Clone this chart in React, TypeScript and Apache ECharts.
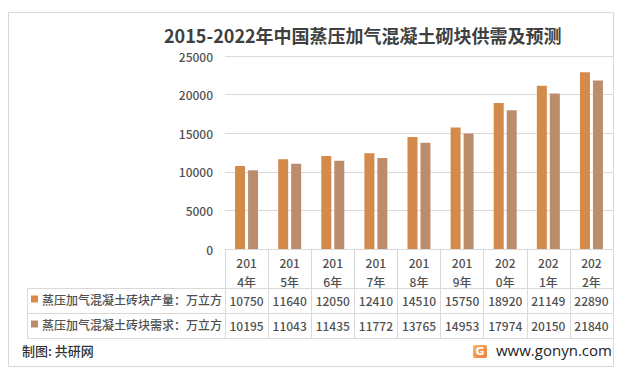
import React, { useEffect, useRef } from "react";
import * as echarts from "echarts";

const categories = ["2014年", "2015年", "2016年", "2017年", "2018年", "2019年", "2020年", "2021年", "2022年"];
const production = [10750, 11640, 12050, 12410, 14510, 15750, 18920, 21149, 22890];
const demand = [10195, 11043, 11435, 11772, 13765, 14953, 17974, 20150, 21840];
const seriesNames = ["蒸压加气混凝土砖块产量：万立方", "蒸压加气混凝土砖块需求：万立方"];
const titleText = "2015-2022年中国蒸压加气混凝土砌块供需及预测";
const yTicks = { min: 0, max: 25000, interval: 5000 };

const FONT = "'Noto Sans CJK SC', 'Microsoft YaHei', sans-serif";
const TXT = "#505050";
const LINE = "#D9D9D9";
const C1 = "#D38A4A";
const C2 = "#BC8D6D";
const W = 500;

export default function App() {
  const ref = useRef<HTMLDivElement>(null);
  useEffect(() => {
    const chart = echarts.init(ref.current!, null, { renderer: "svg" });
    const option: any = {
      animation: false,
      backgroundColor: "#fff",
      textStyle: { fontFamily: FONT },
      title: {
        text: titleText,
        left: 164,
        top: 26,
        padding: 0,
        textStyle: { fontSize: 18, fontWeight: "bold", color: "#404040", fontFamily: FONT },
      },
      legend: [
        {
          data: [seriesNames[0]],
          left: 31,
          top: 293,
          padding: 0,
          icon: "rect",
          itemWidth: 7,
          itemHeight: 7,
          selectedMode: false,
          textStyle: { fontSize: 12, fontWeight: W, color: TXT, fontFamily: FONT, padding: [0, 0, 0, -1] },
        },
        {
          data: [seriesNames[1]],
          left: 31,
          top: 318,
          padding: 0,
          icon: "rect",
          itemWidth: 7,
          itemHeight: 7,
          selectedMode: false,
          textStyle: { fontSize: 12, fontWeight: W, color: TXT, fontFamily: FONT, padding: [0, 0, 0, -1] },
        },
      ],
      grid: { left: 225, right: 9, top: 56, bottom: 126 },
      xAxis: [
        {
          type: "category",
          data: categories,
          boundaryGap: true,
          axisLine: { lineStyle: { color: LINE } },
          axisTick: { show: true, length: 89, lineStyle: { color: LINE } },
          axisLabel: {
            interval: 0,
            margin: 4,
            fontSize: 12,
            fontWeight: W,
            lineHeight: 19,
            color: TXT,
            fontFamily: FONT,
            formatter: (v: string) => v.slice(0, 3) + "\n" + v.slice(3),
          },
        },
        {
          type: "category",
          data: production.map(String),
          position: "bottom",
          offset: 0,
          axisLine: { show: false },
          axisTick: { show: false },
          axisLabel: { interval: 0, margin: 45, fontSize: 12, fontWeight: W, color: TXT, fontFamily: FONT },
        },
        {
          type: "category",
          data: demand.map(String),
          position: "bottom",
          offset: 0,
          axisLine: { show: false },
          axisTick: { show: false },
          axisLabel: { interval: 0, margin: 70, fontSize: 12, fontWeight: W, color: TXT, fontFamily: FONT },
        },
      ],
      yAxis: {
        type: "value",
        min: yTicks.min,
        max: yTicks.max,
        interval: yTicks.interval,
        axisLine: { show: false },
        axisTick: { show: false },
        splitLine: { lineStyle: { color: LINE } },
        axisLabel: {
          margin: 12,
          fontSize: 12,
          fontWeight: W,
          color: TXT,
          fontFamily: FONT,
          formatter: (v: number) => String(v),
        },
      },
      series: [
        {
          name: seriesNames[0],
          type: "bar",
          data: production,
          barWidth: 10,
          barGap: "30%",
          itemStyle: { color: C1 },
        },
        {
          name: seriesNames[1],
          type: "bar",
          data: demand,
          barWidth: 10,
          itemStyle: { color: C2 },
        },
      ],
      graphic: [
        {
          type: "rect",
          shape: { x: 8.5, y: 12.5, width: 605, height: 354 },
          style: { fill: "none", stroke: LINE, lineWidth: 1 },
          silent: true,
        },
        { type: "line", shape: { x1: 27, y1: 288.5, x2: 613, y2: 288.5 }, style: { stroke: LINE, lineWidth: 1 } },
        { type: "line", shape: { x1: 27, y1: 313.5, x2: 613, y2: 313.5 }, style: { stroke: LINE, lineWidth: 1 } },
        { type: "line", shape: { x1: 27, y1: 338.5, x2: 613, y2: 338.5 }, style: { stroke: LINE, lineWidth: 1 } },
        { type: "line", shape: { x1: 27.5, y1: 288, x2: 27.5, y2: 338 }, style: { stroke: LINE, lineWidth: 1 } },
        {
          type: "text",
          left: 22,
          top: 344,
          style: { text: "制图: 共研网", fontSize: 13, fontWeight: W, fill: "#333", fontFamily: FONT },
        },
        {
          type: "rect",
          shape: { x: 473, y: 345, width: 14, height: 13, r: 2 },
          style: {
            fill: new echarts.graphic.LinearGradient(0, 0, 1, 1, [
              { offset: 0, color: "#F7B267" },
              { offset: 1, color: "#EE7C3A" },
            ]),
          },
        },
        {
          type: "text",
          x: 480,
          y: 351.5,
          style: {
            text: "G",
            fontSize: 11,
            fontWeight: "bold",
            fill: "#fff",
            align: "center",
            verticalAlign: "middle",
            fontFamily: "DejaVu Sans",
          },
        },
        {
          type: "text",
          left: 496,
          top: 342,
          style: { text: "www.gonyn.com", fontSize: 15, fill: "#222", fontFamily: "'Open Sans', sans-serif" },
        },
      ],
    };
    chart.setOption(option);
    return () => chart.dispose();
  }, []);
  return <div ref={ref} style={{ position: "fixed", left: 0, top: 0, width: 622, height: 375 }} />;
}
